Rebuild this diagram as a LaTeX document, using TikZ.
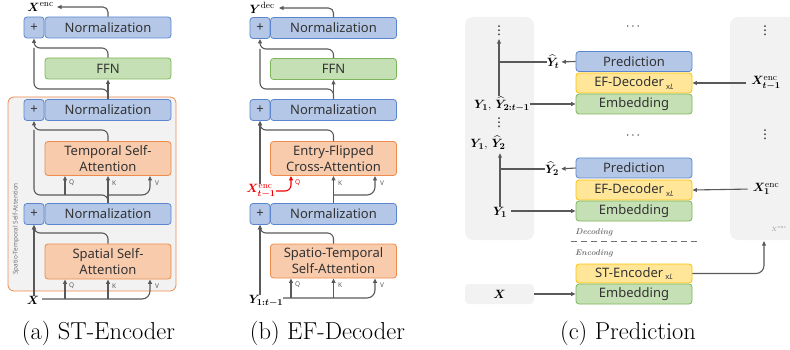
\documentclass[tikz,border=0pt]{standalone}
\usepackage{amsmath}
\usepackage{bm}
\usepackage{fontspec}
\setsansfont{Noto Sans}
\newfontfamily\dotfont{DejaVu Sans}
\usetikzlibrary{arrows.meta}

\definecolor{nfill}{HTML}{B4C7E7}
\definecolor{nedge}{HTML}{5B86CF}
\definecolor{gfill}{HTML}{C5E0B4}
\definecolor{gedge}{HTML}{7DB65A}
\definecolor{ofill}{HTML}{F8CBAD}
\definecolor{oedge}{HTML}{EE8A4C}
\definecolor{yfill}{HTML}{FFE699}
\definecolor{yedge}{HTML}{FFC000}
\definecolor{panel}{HTML}{F2F2F2}
\definecolor{linec}{HTML}{595959}
\definecolor{txt}{HTML}{333333}
\definecolor{hl}{HTML}{F00000}

\newcommand\boxfont{\sffamily\fontsize{13}{16}\selectfont}
\newcommand\qkvfont{\sffamily\fontsize{6.5}{7}\selectfont}
\newcommand\labfont{\fontsize{13}{15}\selectfont}
\newcommand\xL{\raisebox{-2.5pt}{\fontsize{7.5}{8}\selectfont x\textit{L}}}
\newcommand\vdts{{\dotfont\fontsize{12}{13}\selectfont ⋮}}

\tikzset{
  blk/.style={rounded corners=3pt, line width=0.8pt, inner sep=0pt, font=\boxfont,
    text=txt, align=center, minimum width=126pt, minimum height=21pt},
  nrm/.style={blk, draw=nedge, fill=nfill},
  plus/.style={nrm, minimum width=20pt},
  ffn/.style={blk, draw=gedge, fill=gfill},
  att/.style={blk, draw=oedge, fill=ofill, minimum height=34pt},
  pred/.style={nrm, minimum width=116pt, minimum height=20pt},
  yel/.style={blk, draw=yedge, fill=yfill, minimum width=116pt, minimum height=20pt},
  emb/.style={ffn, minimum width=116pt, minimum height=20pt},
  qkv/.style={font=\qkvfont, text=linec, anchor=west, inner sep=0pt},
  lab/.style={font=\labfont, inner sep=0pt},
  conn/.style={draw=linec, line width=1.1pt},
  arr/.style={conn, -{Triangle[length=4.5pt,width=3.8pt]}},
  phase/.style={font=\fontsize{8.3}{9}\selectfont\bfseries\itshape, text=linec!85},
  caption/.style={font=\fontsize{24.5}{27}\selectfont, anchor=base, inner sep=0pt}
}

\begin{document}
\begin{tikzpicture}[x=1pt,y=-1pt]
\useasboundingbox (0,0) rectangle (790,350);

% ---------------- (a) ST-Encoder ----------------
\fill[panel, draw=oedge, line width=0.8pt, rounded corners=6pt] (8,97) rectangle (176,291);
\node[font=\sffamily\fontsize{6.4}{7}\selectfont, text=linec!85, rotate=90] (sta) at (16,229)
  {Spatio-Temporal Self-Attention};

\node[plus] (pa1) at (34,27.5) {+};
\node[nrm]  (na1) at (108,27.5) {Normalization};
\node[ffn]  (fa)  at (108,68.5) {FFN};
\node[plus] (pa2) at (34,110) {+};
\node[nrm]  (na2) at (108,110) {Normalization};
\node[att]  (ta)  at (108,158.5) {Temporal Self-\\Attention};
\node[plus] (pa3) at (34,214) {+};
\node[nrm]  (na3) at (108,214) {Normalization};
\node[att, minimum height=35pt] (sa) at (108,261.5) {Spatial Self-\\Attention};
\node[lab] (xa) at (33,300) {$\bm{X}$};
\node[lab, anchor=east] (xenca) at (54,7) {$\bm{X}^{\mathrm{enc}}$};
\coordinate (xin) at (42,299);

\draw[arr, rounded corners=5pt, shorten >=3pt] (na1.north) |- (xenca.east);
\draw[arr, rounded corners=6pt] (fa.north) |- (34,48) -- (pa1.south);
\draw[conn, rounded corners=6pt] (na2.north) |- (34,89) -- (34,48);
\draw[arr] (na2.north) -- (fa.south);

\draw[arr, rounded corners=6pt] (ta.north) |- (34,130) -- (pa2.south);
\draw[conn, rounded corners=6pt] (na3.north) |- (34,195) -- (34,130);
\draw[arr] (na3.north) -- (ta.south);
\draw[arr] (65,195) -- (ta.south -| 65,0);
\draw[arr, rounded corners=8pt] (108,195) -| (ta.south -| 150,0);
\node[qkv] (qa1) at (69,183) {Q};
\node[qkv] (ka1) at (112,183) {K};
\node[qkv] (va1) at (155,183) {V};

\draw[arr, rounded corners=6pt] (sa.north) |- (34,233) -- (pa3.south);
\draw[arr] (xa.north -| pa3.south) -- (pa3.south);
\draw[arr, rounded corners=8pt] (xin) -| (sa.south -| 150,0);
\draw[arr] (xin -| 65,0) -- (sa.south -| 65,0);
\draw[arr] (xin -| sa.south) -- (sa.south);
\node[qkv] (qa2) at (69,286) {Q};
\node[qkv] (ka2) at (112,286) {K};
\node[qkv] (va2) at (155,286) {V};

% ---------------- (b) EF-Decoder ----------------
\node[plus] (pb1) at (260,28) {+};
\node[nrm]  (nb1) at (333.5,28) {Normalization};
\node[ffn]  (fb)  at (333.5,69) {FFN};
\node[plus] (pb2) at (260,110) {+};
\node[nrm]  (nb2) at (333.5,110) {Normalization};
\node[att]  (eb)  at (333.5,158.5) {Entry-Flipped\\Cross-Attention};
\node[plus] (pb3) at (260,214) {+};
\node[nrm]  (nb3) at (333.5,214) {Normalization};
\node[att]  (sb)  at (333.5,261) {Spatio-Temporal\\Self-Attention};
\node[lab, anchor=east] (ydec) at (275,8) {$\bm{Y}^{\mathrm{dec}}$};
\node[lab, text=hl] (xencb) at (261,191) {$\bm{X}^{\mathrm{enc}}_{\bm{t-1}}$};
\node[lab] (yb) at (266,301) {$\bm{Y}_{\bm{1:t-1}}$};
\coordinate (yin) at (283,298);

\draw[arr, rounded corners=5pt, shorten >=4pt] (nb1.north) |- (ydec.east);
\draw[arr, rounded corners=6pt] (fb.north) |- (260,49) -- (pb1.south);
\draw[conn, rounded corners=6pt] (nb2.north) |- (260,89) -- (260,49);
\draw[arr] (nb2.north) -- (fb.south);

\draw[arr, rounded corners=6pt] (eb.north) |- (260,130) -- (pb2.south);
\draw[arr] (xencb.north -| pb2.south) -- (pb2.south);
\draw[arr, draw=hl, rounded corners=6pt] (xencb.east) -| (eb.south -| 291,0);
\draw[arr] (nb3.north) -- (eb.south);
\draw[arr, rounded corners=8pt] (333.5,195) -| (eb.south -| 375,0);
\node[qkv, text=hl, font=\qkvfont\bfseries] (qb1) at (295,183) {Q};
\node[qkv] (kb1) at (338,183) {K};
\node[qkv] (vb1) at (380,183) {V};

\draw[arr, rounded corners=6pt] (sb.north) |- (260,233) -- (pb3.south);
\draw[arr] (yb.north -| pb3.south) -- (pb3.south);
\draw[arr, rounded corners=8pt] (yin) -| (sb.south -| 375,0);
\draw[arr] (yin -| 291,0) -- (sb.south -| 291,0);
\draw[arr] (yin -| sb.south) -- (sb.south);
\node[qkv] (qb2) at (295,285) {Q};
\node[qkv] (kb2) at (338,285) {K};
\node[qkv] (vb2) at (380,285) {V};

% ---------------- (c) Prediction ----------------
\fill[panel, rounded corners=8pt] (465,17) rectangle (534,240);
\begin{scope}
  \clip (0,0) rectangle (790,350);
  \fill[panel, rounded corners=8pt] (730,17) rectangle (810,240);
\end{scope}
\node[fill=panel, rounded corners=4pt, minimum width=69pt, minimum height=20pt,
  inner sep=0pt, font=\labfont] (xc) at (499.5,294) {$\bm{X}$};

\node[lab] (dl1) at (499,31) {\vdts};
\node[lab] (dr1) at (765,31) {\vdts};
\node[lab] (dm1) at (634,27) {$\cdots$};
\node[pred] (pu) at (634,61.5) {Prediction};
\node[yel]  (du) at (634,83) {EF-Decoder\,\xL};
\node[emb]  (eu) at (634,104) {Embedding};
\node[lab] (ytu) at (553,62) {$\widehat{\bm{Y}}_{\bm{t}}$};
\node[lab] (ysu) at (502,104) {$\bm{Y}_{\bm{1}},\,\widehat{\bm{Y}}_{\bm{2:t-1}}$};
\node[lab] (xeu) at (766,83) {$\bm{X}^{\mathrm{enc}}_{\bm{t-1}}$};

\node[lab] (dl2) at (499,123) {\vdts};
\node[lab] (dr2) at (765,135) {\vdts};
\node[lab] (y12) at (488,143) {$\bm{Y}_{\bm{1}},\,\widehat{\bm{Y}}_{\bm{2}}$};
\node[lab] (dm2) at (634,136) {$\cdots$};

\node[pred] (pl) at (634,168) {Prediction};
\node[yel]  (dw) at (634,190) {EF-Decoder\,\xL};
\node[emb]  (el) at (634,211) {Embedding};
\node[lab] (y2l) at (552,169) {$\widehat{\bm{Y}}_{\bm{2}}$};
\node[lab] (y1l) at (500,212) {$\bm{Y}_{\bm{1}}$};
\node[lab] (xe1) at (766,189) {$\bm{X}^{\mathrm{enc}}_{\bm{1}}$};

\node[phase] (decl) at (594,232) {Decoding};
\node[phase] (encl) at (594,253) {Encoding};
\coordinate (sepl) at (571,241);
\coordinate (sepr) at (697,241);
\draw[draw=linec!85, line width=1pt, dash pattern=on 6pt off 4pt] (sepl) -- (sepr);
\node[font=\fontsize{6.5}{7}\selectfont, text=linec!60, inner sep=0pt] (xencs) at (779,229) {$X^{\mathrm{enc}}$};

\node[yel, minimum height=19pt] (sc) at (634,273.5) {ST-Encoder\,\xL};
\node[emb] (ec) at (634,294) {Embedding};
\coordinate (colbot) at (764,241);

\draw[arr, shorten >=2pt] (pu.west) -- (ytu.east);
\draw[conn] (ytu.west) -- (ytu.west -| dl1);
\draw[arr, shorten >=3pt] (ysu.north -| dl1) -- (dl1.south);
\draw[arr] (ysu.east |- eu.west) -- (eu.west);
\draw[arr, shorten <=5pt] (xeu.west) -- (du.east);

\draw[arr, shorten >=2pt] (pl.west) -- (y2l.east);
\draw[conn] (y2l.west) -- (y2l.west -| y1l);
\draw[arr, shorten >=3pt] (y1l.north) -- (y12.south -| y1l);
\draw[arr, shorten <=4pt] (y1l.east |- el.west) -- (el.west);
\draw[arr, shorten <=5pt] (xe1.west) -- (dw.east);

\draw[arr] (xc.east) -- (ec.west);
\draw[arr, rounded corners=8pt] (sc.east) -| (colbot);

% ---------------- captions ----------------
\node[caption] (capa) at (98.5,339) {(a) ST-Encoder};
\node[caption] (capb) at (327.5,339) {(b) EF-Decoder};
\node[caption] (capc) at (628,339) {(c) Prediction};
\end{tikzpicture}
\end{document}
